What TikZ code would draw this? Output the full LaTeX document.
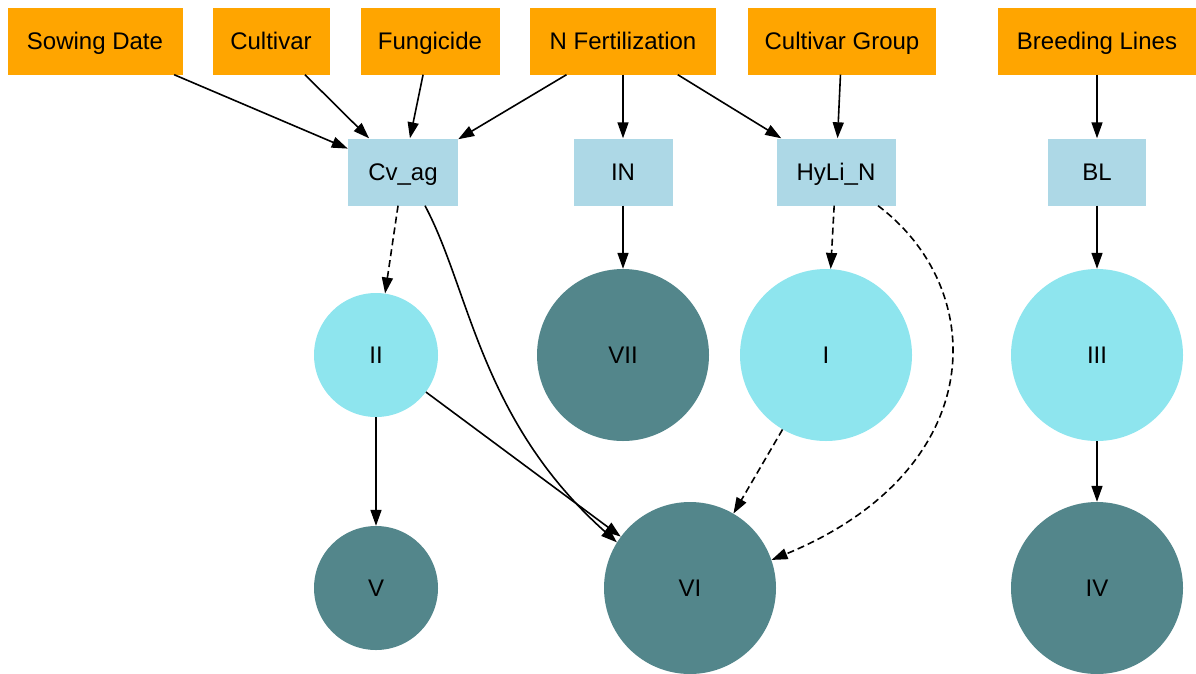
\documentclass[tikz,border=0pt]{standalone}
\usepackage{fontspec}
\setmainfont{Liberation Sans}
\usetikzlibrary{arrows.meta}

\definecolor{factororange}{HTML}{FFA500}
\definecolor{modelblue}{HTML}{ADD8E6}
\definecolor{lightteal}{HTML}{8EE5EE}
\definecolor{darkteal}{HTML}{53868B}

\begin{document}
\begin{tikzpicture}
    [
        x=1pt, y=-1pt,
        font=\fontsize{24}{28}\selectfont,
        every node/.style={text height=22pt, text depth=5pt},
        factor node/.style={rectangle, fill=factororange, inner sep=0pt, minimum height=67pt},
        model node/.style={rectangle, fill=modelblue, inner sep=0pt, minimum height=67pt},
        small node/.style={circle, fill=lightteal, inner sep=0pt, minimum size=124pt},
        light node/.style={circle, fill=lightteal, inner sep=0pt, minimum size=172pt},
        dark node/.style={circle, fill=darkteal, inner sep=0pt, minimum size=172pt},
        edge/.style={-{Triangle[length=16pt, width=11pt]}, line width=1.6pt},
        dash edge/.style={edge, dash pattern=on 7pt off 4pt}
    ]

    \useasboundingbox (0,0) rectangle (1196,673);

    \node [factor node, minimum width=175pt] (sow) at (95, 41) {Sowing Date};
    \node [factor node, minimum width=117pt] (cult) at (271, 41) {Cultivar};
    \node [factor node, minimum width=139pt] (fung) at (430, 41) {Fungicide};
    \node [factor node, minimum width=186pt] (nfert) at (623, 41) {N Fertilization};
    \node [factor node, minimum width=188pt] (cgroup) at (842, 41) {Cultivar Group};
    \node [factor node, minimum width=198pt] (breed) at (1097, 41) {Breeding Lines};

    \node [model node, minimum width=110pt] (cvag) at (403, 172) {Cv\_ag};
    \node [model node, minimum width=99pt] (in) at (623, 172) {IN};
    \node [model node, minimum width=119pt] (hyli) at (836, 172) {HyLi\_N};
    \node [model node, minimum width=98pt] (bl) at (1097, 172) {BL};

    \node [small node] (ii) at (376, 355) {II};
    \node [dark node] (vii) at (623, 355) {VII};
    \node [light node] (i) at (826, 355) {I};
    \node [light node] (iii) at (1097, 355) {III};

    \node [dark node, minimum size=124pt] (v) at (376, 588) {V};
    \node [dark node] (vi) at (690, 588) {VI};
    \node [dark node] (iv) at (1097, 588) {IV};

    \draw [edge] (sow) -- (cvag);
    \draw [edge] (cult) -- (cvag);
    \draw [edge] (fung) -- (cvag);
    \draw [edge] (nfert) -- (cvag);
    \draw [edge] (nfert) -- (in);
    \draw [edge] (nfert) -- (hyli);
    \draw [edge] (cgroup) -- (hyli);
    \draw [edge] (breed) -- (bl);

    \draw [dash edge] (cvag) -- (ii);
    \draw [edge] ([xshift=22pt]cvag.south) .. controls (470, 290) and (480, 420) .. (vi.148);
    \draw [edge] (in) -- (vii);
    \draw [dash edge] (hyli) -- (i);
    \draw [dash edge] ([xshift=42pt]hyli.south) .. controls (990, 290) and (990, 470) .. (vi.19);
    \draw [edge] (bl) -- (iii);

    \draw [edge] (ii) -- (v);
    \draw [edge] (ii) -- (vi);
    \draw [dash edge] (i) -- (vi);
    \draw [edge] (iii) -- (iv);
    \end{tikzpicture}
\end{document}
